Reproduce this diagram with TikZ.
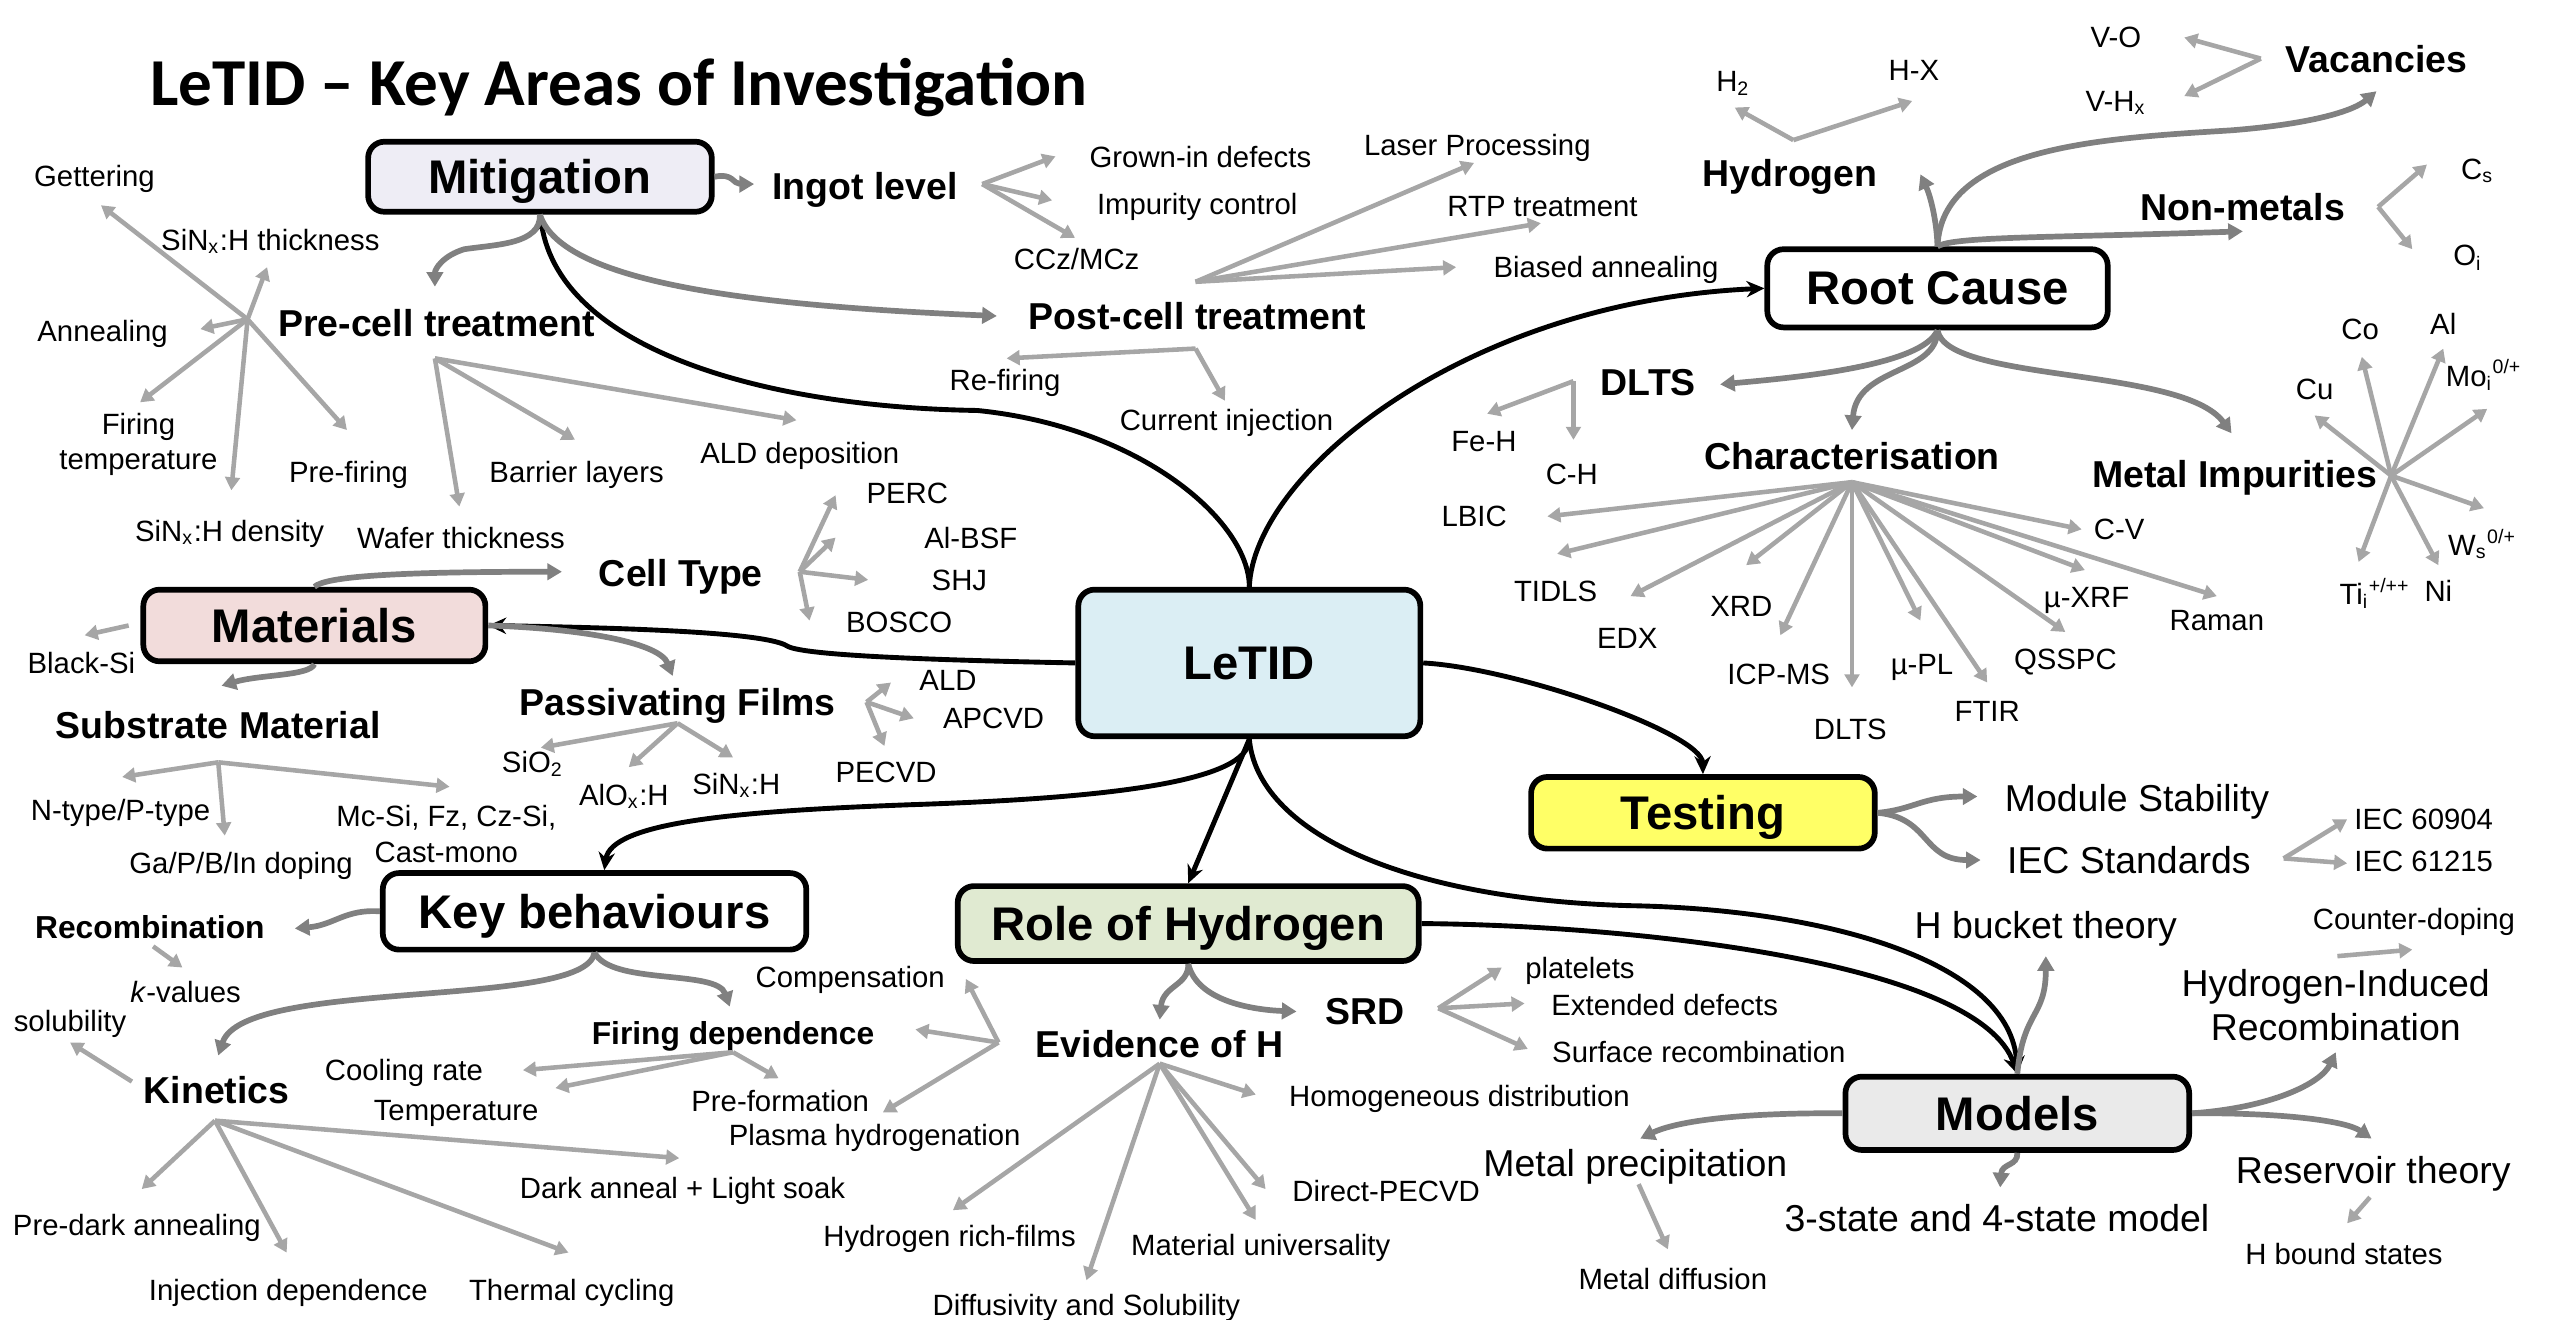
\documentclass[tikz,border=0pt]{standalone}
\usepackage{fontspec}
\setmainfont{Liberation Sans}
\newfontfamily\titlefont{Carlito}
\usetikzlibrary{arrows.meta}
\definecolor{mitfill}{HTML}{EEEDF5}
\definecolor{matfill}{HTML}{F2DCDB}
\definecolor{letfill}{HTML}{DBEEF4}
\definecolor{tstfill}{HTML}{FFFF66}
\definecolor{rolfill}{HTML}{E0EAD1}
\definecolor{modfill}{HTML}{EAEAEA}
\definecolor{darkgr}{HTML}{808080}
\definecolor{lightgr}{HTML}{A6A6A6}

\begin{document}
\begin{tikzpicture}
  [x=0.5pt,y=-0.5pt,every node/.style={font=\fontsize{9}{11}\selectfont,inner sep=1pt,align=center,text depth=0pt}]
  \tikzstyle{box} = [draw,line width=1.75pt,rounded corners=5pt,font=\fontsize{14.5}{17}\selectfont\bfseries,minimum width=105pt,minimum height=22pt]
  \tikzstyle{head} = [font=\fontsize{11.5}{13}\selectfont\bfseries]
  \tikzstyle{minor} = [font=\fontsize{9.75}{12}\selectfont\bfseries]
  \tikzstyle{big} = [font=\fontsize{11.5}{13.5}\selectfont]
  \tikzstyle{main} = [line width=1.5pt,-{Stealth[length=5.5pt,width=5pt]}]
  \tikzstyle{branch} = [draw=darkgr,line width=1.75pt,-{Triangle[length=4.5pt,width=5pt]}]
  \tikzstyle{leaf} = [draw=lightgr,line width=1.4pt,-{Triangle[length=4pt,width=4.5pt]}]
  \useasboundingbox (0,0) rectangle (1568,810);

  \node[font=\titlefont\bfseries\fontsize{20.6}{24}\selectfont] (ttl) at (380,50) {LeTID – Key Areas of Investigation};

  % main boxes
  \node[box,fill=mitfill,minimum width=105.5pt,minimum height=21.5pt] (mitig) at (331.5,108.5) {Mitigation};
  \node[box,fill=white,minimum width=104.5pt,minimum height=24pt] (rootc) at (1189.5,177) {Root Cause};
  \node[box,fill=matfill] (matl) at (193,384) {Materials};
  \node[box,fill=letfill,minimum height=45pt] (letid) at (767,407) {LeTID};
  \node[box,fill=tstfill,minimum width=105.5pt] (testing) at (1045.5,499) {Testing};
  \node[box,fill=white,minimum width=130pt,minimum height=23.5pt] (keyb) at (365,559.5) {Key behaviours};
  \node[box,fill=rolfill,minimum width=141.5pt,minimum height=23pt] (rolh) at (729.5,567) {Role of Hydrogen};
  \node[box,fill=modfill,minimum width=105.5pt,minimum height=22.5pt] (models) at (1238.5,683.5) {Models};

  % sub headings
  \node[head] (ingot) at (531,114) {Ingot level};
  \node[head] (precell) at (268,198) {Pre-cell treatment};
  \node[head] (postcell) at (735,194) {Post-cell treatment};
  \node[head] (celltype) at (418,352) {Cell Type};
  \node[head] (substr) at (134,445) {Substrate Material};
  \node[head] (passiv) at (416,431) {Passivating Films};
  \node[minor] (recomb) at (92,569) {Recombination};
  \node[head] (kinet) at (133,669) {Kinetics};
  \node[minor] (firing) at (450,634) {Firing dependence};
  \node[head] (evid) at (712,641) {Evidence of H};
  \node[head] (srd) at (838,621) {SRD};
  \node[head] (hydro) at (1099,106) {Hydrogen};
  \node[head] (nonmet) at (1377,127) {Non-metals};
  \node[head] (vacan) at (1459,36) {Vacancies};
  \node[head] (dlts) at (1012,235) {DLTS};
  \node[head] (charac) at (1137,280) {Characterisation};
  \node[head] (metimp) at (1372,291) {Metal Impurities};

  % larger plain labels
  \node[big] (modstab) at (1312,490) {Module Stability};
  \node[big] (iecstd) at (1307,528) {IEC Standards};
  \node[big] (hbucket) at (1256,568) {H bucket theory};
  \node[big] (hir) at (1434,617) {Hydrogen-Induced\\Recombination};
  \node[big] (metprec) at (1004,714) {Metal precipitation};
  \node[big] (states) at (1226,748) {3-state and 4-state model};
  \node[big] (reserv) at (1457,718) {Reservoir theory};

  % leaves
  \node (getter) at (58,108) {Gettering};
  \node (sinthk) at (166,147) {SiN\textsubscript{x}:H thickness};
  \node (anneal) at (63,203) {Annealing};
  \node (firtemp) at (85,271) {Firing\\temperature};
  \node (prefir) at (214,290) {Pre-firing};
  \node (sindens) at (141,326) {SiN\textsubscript{x}:H density};
  \node (barrier) at (354,290) {Barrier layers};
  \node (wafer) at (283,330) {Wafer thickness};
  \node (alddep) at (491,278) {ALD deposition};
  \node (grown) at (737,96) {Grown-in defects};
  \node (impur) at (735,125) {Impurity control};
  \node (ccz) at (661,159) {CCz/MCz};
  \node (laser) at (907,89) {Laser Processing};
  \node (rtp) at (947,127) {RTP treatment};
  \node (biased) at (986,164) {Biased annealing};
  \node (refire) at (617,233) {Re-firing};
  \node (curinj) at (753,258) {Current injection};
  \node (perc) at (557,303) {PERC};
  \node (albsf) at (596,330) {Al-BSF};
  \node (shj) at (589,356) {SHJ};
  \node (bosco) at (552,382) {BOSCO};
  \node (blacksi) at (50,407) {Black-Si};
  \node (ntype) at (74,497) {N-type/P-type};
  \node (doping) at (148,530) {Ga/P/B/In doping};
  \node (mcsi) at (274,512) {Mc-Si, Fz, Cz-Si,\\Cast-mono};
  \node (sio) at (327,468) {SiO\textsubscript{2}};
  \node (alox) at (383,488) {AlO\textsubscript{x}:H};
  \node (sinx) at (452,481) {SiN\textsubscript{x}:H};
  \node (ald) at (582,418) {ALD};
  \node (apcvd) at (610,441) {APCVD};
  \node (pecvd) at (544,474) {PECVD};
  \node (kval) at (114,609) {\textit{k}-values};
  \node (solub) at (43,627) {solubility};
  \node (coolr) at (248,657) {Cooling rate};
  \node (temper) at (280,682) {Temperature};
  \node (preform) at (479,676) {Pre-formation};
  \node (compens) at (522,600) {Compensation};
  \node (plasma) at (537,697) {Plasma hydrogenation};
  \node (darkan) at (419,729) {Dark anneal + Light soak};
  \node (predark) at (84,752) {Pre-dark annealing};
  \node (injdep) at (177,792) {Injection dependence};
  \node (thermc) at (351,792) {Thermal cycling};
  \node (platel) at (970,594) {platelets};
  \node (extdef) at (1022,617) {Extended defects};
  \node (surfrec) at (1043,646) {Surface recombination};
  \node (homog) at (896,673) {Homogeneous distribution};
  \node (direct) at (851,731) {Direct-PECVD};
  \node (matuni) at (774,764) {Material universality};
  \node (diffus) at (667,801) {Diffusivity and Solubility};
  \node (hrich) at (583,759) {Hydrogen rich-films};
  \node (htwo) at (1064,50) {H\textsubscript{2}};
  \node (hx) at (1175,43) {H-X};
  \node (vo) at (1299,23) {V-O};
  \node (vh) at (1299,62) {V-H\textsubscript{x}};
  \node (cs) at (1521,104) {C\textsubscript{s}};
  \node (oi) at (1515,157) {O\textsubscript{i}};
  \node (feh) at (911,271) {Fe-H};
  \node (ch) at (965,291) {C-H};
  \node (lbic) at (905,317) {LBIC};
  \node (tidls) at (955,363) {TIDLS};
  \node (edx) at (999,392) {EDX};
  \node (xrd) at (1069,372) {XRD};
  \node (icpms) at (1092,414) {ICP-MS};
  \node (dltsb) at (1136,448) {DLTS};
  \node (mupl) at (1180,408) {µ-PL};
  \node (ftir) at (1220,437) {FTIR};
  \node (qsspc) at (1268,405) {QSSPC};
  \node (muxrf) at (1281,367) {µ-XRF};
  \node (cv) at (1301,325) {C-V};
  \node (raman) at (1361,381) {Raman};
  \node (co) at (1449,202) {Co};
  \node (al) at (1500,199) {Al};
  \node (cu) at (1421,239) {Cu};
  \node (mo) at (1525,229) {Mo\textsubscript{i}\textsuperscript{0/+}};
  \node (ws) at (1524,333) {W\textsubscript{s}\textsuperscript{0/+}};
  \node (ni) at (1497,363) {Ni};
  \node (ti) at (1458,363) {Ti\textsubscript{i}\textsuperscript{+/++}};
  \node (iec1) at (1488,503) {IEC 60904};
  \node (iec2) at (1488,529) {IEC 61215};
  \node (counter) at (1482,564) {Counter-doping};
  \node (metdif) at (1027,785) {Metal diffusion};
  \node (hbound) at (1439,770) {H bound states};

  % main connectors
  \draw[main] (letid.north) .. controls (767,320) and (700,262) .. (600,252) .. controls (470,250) and (345,215) .. (mitig.south);
  \draw[main] (letid.north) .. controls (770,290) and (900,185) .. (rootc.west);
  \draw[main] (letid.west) .. controls (560,405) and (495,402) .. (484,397) .. controls (474,390) and (420,386) .. (matl.east);
  \draw[main] (letid.south) .. controls (767,480) and (680,490) .. (560,494) .. controls (450,498) and (375,505) .. ([xshift=3pt]keyb.north);
  \draw[main] (letid.south) -- (rolh.north);
  \draw[main] (letid.south) .. controls (772,510) and (860,552) .. (1000,556) .. controls (1120,558) and (1235,590) .. (models.north);
  \draw[main] (rolh.east) .. controls (1000,568) and (1215,590) .. (models.north);
  \draw[main] (letid.east) .. controls (930,410) and (1045,450) .. (testing.north);

  % branch tips
  \coordinate (ingt) at (463,113);
  \coordinate (prct) at (267,176);
  \coordinate (posct) at (612,194);
  \coordinate (cltt) at (345,351);
  \coordinate (sbmt) at (136,421);
  \coordinate (psft) at (413,415);
  \coordinate (rcmt) at (181,570);
  \coordinate (kint) at (134,648);
  \coordinate (frdt) at (448,618);
  \coordinate (evdt) at (712,626);
  \coordinate (srdt) at (796,621);
  \coordinate (hydt) at (1179,107);
  \coordinate (vact) at (1459,56);
  \coordinate (nmtt) at (1377,142);
  \coordinate (dltt) at (1056,236);
  \coordinate (chrt) at (1137,264);
  \coordinate (mimt) at (1370,266);
  \coordinate (mdst) at (1214,489);
  \coordinate (iect) at (1216,528);
  \coordinate (hbkt) at (1256,587);
  \coordinate (hirt) at (1434,646);
  \coordinate (rsvt) at (1456,699);
  \coordinate (mpct) at (1007,699);
  \coordinate (tstt) at (1228,729);

  \draw[branch] (mitig.east) .. controls (450,106) and (450,113) .. (ingt);
  \draw[branch] (mitig.south) .. controls (332,150) and (305,150) .. (285,153) .. controls (272,157) and (267,165) .. (prct);
  \draw[branch] (mitig.south) .. controls (345,175) and (470,188) .. (posct);
  \draw[branch] (matl.north) .. controls (200,354) and (240,351) .. (cltt);
  \draw[branch] (matl.south) .. controls (190,415) and (160,414) .. (sbmt);
  \draw[branch] (matl.east) .. controls (360,386) and (405,395) .. (psft);
  \draw[branch] (keyb.west) .. controls (212,558) and (205,568) .. (rcmt);
  \draw[branch] (keyb.south) .. controls (360,620) and (150,600) .. (kint);
  \draw[branch] (keyb.south) .. controls (375,605) and (440,595) .. (frdt);
  \draw[branch] (rolh.south) .. controls (730,605) and (714,605) .. (evdt);
  \draw[branch] (rolh.south) .. controls (735,615) and (770,620) .. (srdt);
  \draw[branch] (rootc.north) .. controls (1189,135) and (1185,120) .. (hydt);
  \draw[branch] (rootc.north) .. controls (1192,90) and (1290,85) .. (1370,80) .. controls (1420,76) and (1445,68) .. (vact);
  \draw[branch] (rootc.north) .. controls (1200,145) and (1260,146) .. (nmtt);
  \draw[branch] (rootc.south) .. controls (1180,225) and (1100,232) .. (dltt);
  \draw[branch] (rootc.south) .. controls (1189,230) and (1140,225) .. (chrt);
  \draw[branch] (rootc.south) .. controls (1195,235) and (1340,225) .. (mimt);
  \draw[branch] (testing.east) .. controls (1175,497) and (1180,489) .. (mdst);
  \draw[branch] (testing.east) .. controls (1185,502) and (1180,528) .. (iect);
  \draw[branch] (models.north) .. controls (1242,620) and (1256,625) .. (hbkt);
  \draw[branch] (models.east) .. controls (1395,680) and (1425,665) .. (hirt);
  \draw[branch] (models.east) .. controls (1400,683) and (1440,688) .. (rsvt);
  \draw[branch] (models.west) .. controls (1070,683) and (1030,688) .. (mpct);
  \draw[branch] (models.south) .. controls (1239,716) and (1229,714) .. (tstt);

  % leaf fans: origin, then tips
  \coordinate (ingf) at (603,113);
  \coordinate (pcu) at (734,173);
  \coordinate (pcl) at (734,214);
  \coordinate (prf) at (267,220);
  \coordinate (prs) at (152,196);
  \coordinate (ctf) at (491,351);
  \coordinate (bsf) at (79,384);
  \coordinate (sbf) at (134,468);
  \coordinate (pfl) at (416,444);
  \coordinate (pfr) at (532,431);
  \coordinate (rkf) at (94,581);
  \coordinate (ksf) at (81,664);
  \coordinate (knf) at (132,688);
  \coordinate (fdf) at (450,646);
  \coordinate (evl) at (613,640);
  \coordinate (srf) at (883,619);
  \coordinate (evf) at (712,653);
  \coordinate (hyf) at (1101,86);
  \coordinate (vcf) at (1388,36);
  \coordinate (nmf) at (1460,127);
  \coordinate (dlf) at (966,234);
  \coordinate (chf) at (1137,296);
  \coordinate (mif) at (1468,292);
  \coordinate (iecf) at (1402,527);
  \coordinate (cdf) at (1435,587);
  \coordinate (hbf) at (1455,735);
  \coordinate (mdf) at (1006,727);

  \foreach \o/\n/\p in {
      ingf/ig1/{648,96}, ingf/ig2/{646,123}, ingf/ig3/{660,146},
      pcu/pu1/{905,100}, pcu/pu2/{946,137}, pcu/pu3/{894,164},
      pcl/pl1/{618,220}, pcl/pl2/{752,246},
      prf/pf1/{282,311}, prf/pf2/{353,270}, prf/pf3/{489,258},
      prs/ps1/{62,126}, prs/ps2/{164,164}, prs/ps3/{123,202},
      prs/ps4/{86,247}, prs/ps5/{142,301}, prs/ps6/{213,264},
      ctf/ct1/{513,304}, ctf/ct2/{513,330}, ctf/ct3/{533,356}, ctf/ct4/{497,381},
      bsf/bs1/{52,390},
      sbf/sb1/{75,477}, sbf/sb2/{138,513}, sbf/sb3/{276,483},
      pfl/fl1/{332,459}, pfl/fl2/{386,471}, pfl/fl3/{450,465},
      pfr/fr1/{547,419}, pfr/fr2/{561,441}, pfr/fr3/{543,458},
      rkf/rk1/{112,594}, ksf/ks1/{43,640},
      knf/kn1/{87,730}, knf/kn2/{176,769}, knf/kn3/{349,769}, knf/kn4/{417,711},
      fdf/fd1/{321,657}, fdf/fd2/{341,668}, fdf/fd3/{478,662},
      evl/el1/{593,601}, evl/el2/{562,632}, evl/el3/{542,683},
      srf/sr1/{922,594}, srf/sr2/{936,616}, srf/sr3/{938,644},
      evf/ev1/{771,672}, evf/ev2/{777,730}, evf/ev3/{771,749}, evf/ev4/{667,786}, evf/ev5/{585,743},
      hyf/hy1/{1065,66}, hyf/hy2/{1174,62},
      vcf/vc1/{1341,23}, vcf/vc2/{1341,59},
      nmf/nm1/{1490,101}, nmf/nm2/{1481,153},
      dlf/dl1/{913,254}, dlf/dl2/{966,270},
      chf/ch1/{950,317}, chf/ch2/{956,340}, chf/ch3/{1001,366}, chf/ch4/{1072,347},
      chf/ch5/{1093,390}, chf/ch6/{1137,422}, chf/ch7/{1179,381}, chf/ch8/{1220,419},
      chf/ch9/{1268,388}, chf/ch10/{1280,350}, chf/ch11/{1278,325}, chf/ch12/{1361,366},
      mif/mi1/{1450,219}, mif/mi2/{1500,214}, mif/mi3/{1421,255}, mif/mi4/{1527,251},
      mif/mi5/{1525,312}, mif/mi6/{1497,347}, mif/mi7/{1448,345},
      iecf/ie1/{1441,503}, iecf/ie2/{1441,530},
      cdf/cd1/{1481,583}, hbf/hb1/{1441,751}, mdf/md1/{1024,767}}
    {
      \coordinate (\n) at (\p);
      \draw[leaf] (\o) -- (\n);
    }

\end{tikzpicture}
\end{document}
